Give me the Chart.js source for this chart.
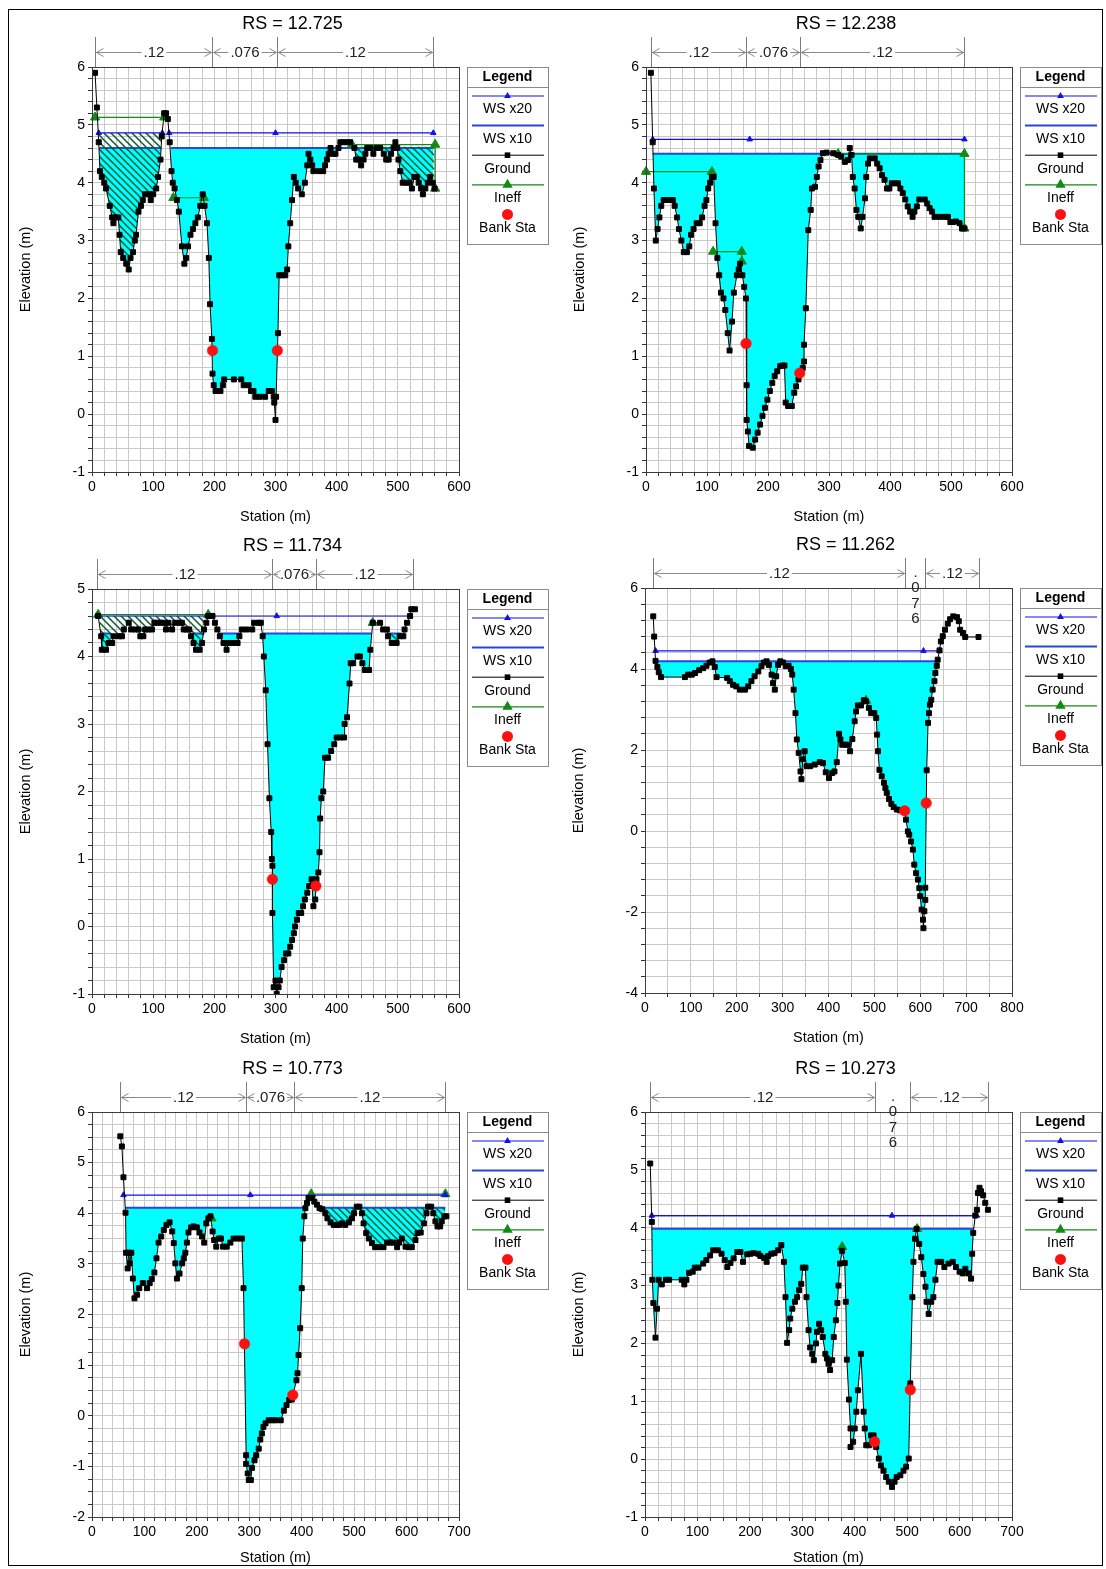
<!DOCTYPE html>
<html>
<head>
<meta charset="utf-8">
<script src="https://cdn.jsdelivr.net/npm/chart.js@4.4.0/dist/chart.umd.min.js"></script>
<style>
  html, body { margin: 0; padding: 0; background: #fff; }
  #page { position: relative; width: 1106px; height: 1569px; overflow: hidden; }
  #frame { position: absolute; left: 8px; top: 9px; width: 1095px; height: 1557px; border: 1px solid #000; box-sizing: border-box; }
  canvas { position: absolute; }
</style>
</head>
<body>
<div id="page"><div id="frame"></div></div>
<script>
const rsLabels = ["12.725", "12.238", "11.734", "11.262", "10.773", "10.273"];

// ground points [station, elevation]
const ground12725 = [[5,5.9],[8,5.3],[11,4.7],[13,4.2],[16,4.1],[20,4.0],[23,3.9],[29,3.6],[33,3.4],[35,3.3],[38,3.4],[43,3.4],[45,3.1],[47,2.8],[51,2.7],[56,2.6],[60,2.5],[63,2.7],[67,2.8],[70,3.0],[72,3.1],[76,3.5],[80,3.6],[83,3.7],[87,3.8],[93,3.8],[96,3.7],[100,3.8],[105,3.9],[108,4.1],[112,4.4],[114,4.8],[118,5.2],[121,5.2],[124,5.1],[127,4.7],[130,4.2],[132,4.0],[135,3.9],[139,3.7],[142,3.5],[147,2.9],[151,2.6],[154,2.7],[157,2.9],[161,3.1],[165,3.2],[169,3.3],[173,3.4],[177,3.6],[181,3.8],[184,3.6],[188,3.3],[191,2.7],[193,1.9],[196,1.3],[197,0.7],[199,0.5],[202,0.4],[210,0.4],[214,0.5],[216,0.6],[232,0.6],[244,0.6],[248,0.5],[256,0.5],[260,0.4],[264,0.4],[267,0.3],[274,0.3],[283,0.3],[289,0.4],[294,0.4],[297,0.3],[298,0.2],[300,-0.1],[301,0.3],[304,1.4],[306,2.4],[311,2.4],[316,2.4],[319,2.5],[321,2.9],[324,3.3],[327,3.7],[330,4.1],[333,4.0],[337,3.9],[343,3.8],[348,4.0],[352,4.3],[354,4.5],[357,4.4],[360,4.3],[362,4.2],[371,4.2],[378,4.2],[381,4.3],[384,4.4],[387,4.5],[390,4.6],[394,4.5],[398,4.5],[403,4.6],[406,4.7],[411,4.7],[417,4.7],[422,4.7],[429,4.6],[432,4.4],[436,4.4],[440,4.3],[444,4.4],[447,4.5],[450,4.6],[455,4.6],[460,4.5],[465,4.6],[471,4.6],[477,4.5],[481,4.4],[485,4.4],[489,4.5],[493,4.6],[496,4.7],[499,4.6],[501,4.4],[504,4.2],[508,4.0],[514,4.0],[519,4.0],[523,3.9],[527,4.1],[531,4.1],[534,4.0],[538,3.9],[541,3.8],[545,3.9],[549,4.0],[553,4.1],[557,4.0],[560,3.9]];
const ground12238 = [[8,5.9],[11,4.7],[13,3.9],[16,3.0],[19,3.2],[22,3.4],[25,3.6],[29,3.7],[37,3.7],[44,3.7],[47,3.6],[51,3.4],[54,3.2],[58,3.0],[62,2.8],[67,2.8],[71,2.9],[74,3.1],[78,3.2],[83,3.3],[88,3.3],[92,3.4],[96,3.6],[99,3.7],[102,3.9],[105,4.0],[108,4.1],[111,4.1],[114,3.3],[117,2.7],[120,2.4],[123,2.1],[127,2.0],[130,1.8],[134,1.4],[137,1.1],[141,1.6],[144,2.1],[149,2.4],[152,2.5],[154,2.6],[158,2.4],[161,2.2],[164,2.0],[165,0.5],[165,-0.1],[167,-0.3],[169,-0.55],[175,-0.58],[179,-0.44],[183,-0.32],[187,-0.18],[191,-0.03],[195,0.11],[199,0.25],[203,0.4],[207,0.54],[211,0.66],[215,0.74],[220,0.83],[224,0.84],[227,0.84],[229,0.2],[233,0.14],[239,0.14],[243,0.37],[246,0.48],[250,0.6],[257,0.8],[259,0.91],[259,1.2],[262,1.83],[266,3.18],[270,3.53],[272,3.9],[277,3.93],[280,4.1],[283,4.28],[286,4.39],[290,4.51],[296,4.52],[307,4.51],[315,4.48],[320,4.45],[326,4.36],[331,4.39],[334,4.6],[337,4.48],[339,4.1],[342,3.9],[345,3.53],[348,3.41],[352,3.21],[355,3.41],[359,3.73],[361,4.1],[364,4.33],[367,4.42],[375,4.42],[379,4.33],[383,4.25],[387,4.13],[391,4.05],[395,3.9],[399,3.9],[403,3.99],[409,3.99],[413,3.99],[417,3.9],[421,3.82],[425,3.71],[429,3.59],[433,3.5],[437,3.41],[440,3.5],[444,3.59],[448,3.71],[457,3.71],[461,3.64],[465,3.56],[469,3.5],[473,3.41],[481,3.41],[489,3.41],[495,3.41],[499,3.32],[503,3.32],[508,3.33],[514,3.3],[518,3.21],[522,3.21]];
const ground11734 = [[10,4.6],[15,4.3],[16,4.1],[23,4.1],[27,4.2],[33,4.2],[35,4.3],[44,4.3],[49,4.3],[52,4.4],[60,4.5],[64,4.4],[71,4.4],[76,4.4],[79,4.3],[84,4.3],[87,4.4],[92,4.4],[98,4.4],[102,4.5],[106,4.5],[112,4.5],[117,4.5],[121,4.4],[125,4.5],[131,4.4],[136,4.5],[143,4.5],[147,4.5],[150,4.4],[155,4.4],[159,4.4],[162,4.3],[166,4.2],[170,4.1],[176,4.1],[180,4.2],[183,4.4],[187,4.5],[190,4.6],[197,4.6],[201,4.5],[205,4.4],[209,4.3],[215,4.2],[220,4.1],[223,4.2],[230,4.2],[238,4.2],[241,4.3],[245,4.4],[253,4.4],[262,4.4],[265,4.5],[272,4.5],[276,4.5],[279,4.3],[281,4.0],[284,3.5],[287,2.7],[290,1.9],[293,1.4],[294,1.0],[295,0.9],[295,0.2],[297,-0.9],[300,-0.8],[302,-1.0],[305,-0.9],[307,-0.8],[310,-0.6],[314,-0.5],[317,-0.4],[321,-0.4],[324,-0.3],[327,-0.2],[330,-0.1],[332,0.0],[335,0.1],[338,0.2],[342,0.2],[345,0.3],[348,0.4],[352,0.5],[355,0.6],[359,0.7],[362,0.3],[365,0.4],[367,0.7],[370,0.8],[372,1.1],[373,1.6],[375,1.9],[378,2.0],[381,2.5],[386,2.5],[391,2.6],[396,2.7],[400,2.8],[406,2.8],[412,2.8],[413,3.0],[417,3.1],[421,3.6],[423,3.9],[427,3.9],[434,4.0],[438,4.0],[442,3.9],[446,3.8],[453,3.8],[455,4.1],[459,4.5],[471,4.5],[476,4.4],[482,4.4],[484,4.3],[490,4.2],[498,4.2],[503,4.3],[509,4.3],[511,4.4],[515,4.5],[520,4.6],[522,4.7],[528,4.7]];
const ground11262 = [[18,5.3],[20,4.8],[23,4.2],[27,4.05],[30,3.92],[35,3.8],[87,3.8],[94,3.86],[102,3.86],[109,3.9],[118,3.97],[127,4.02],[134,4.08],[141,4.16],[147,4.19],[152,4.05],[156,3.8],[179,3.78],[185,3.7],[192,3.61],[199,3.57],[207,3.49],[218,3.49],[225,3.57],[232,3.7],[239,3.82],[247,3.94],[254,4.07],[259,4.16],[265,4.19],[270,4.1],[276,3.86],[279,3.65],[283,3.49],[286,3.82],[290,4.1],[295,4.19],[301,4.16],[307,4.07],[313,4.08],[318,4.0],[321,3.86],[324,3.49],[328,2.91],[331,2.26],[335,1.93],[339,1.47],[341,1.28],[344,1.77],[348,1.97],[352,1.6],[360,1.6],[370,1.64],[381,1.7],[388,1.68],[394,1.45],[401,1.31],[408,1.43],[413,1.47],[418,1.7],[423,2.4],[426,2.26],[430,2.13],[437,2.13],[442,2.13],[447,1.97],[452,2.27],[457,2.71],[460,2.95],[464,3.1],[471,3.1],[477,3.23],[482,3.2],[488,3.04],[493,2.91],[500,2.91],[504,2.79],[506,2.38],[508,1.97],[511,1.51],[516,1.35],[521,1.19],[524,1.06],[527,0.94],[532,0.79],[537,0.67],[542,0.59],[549,0.53],[556,0.51],[566,0.5],[569,0.28],[573,-0.01],[576,-0.09],[580,-0.26],[584,-0.46],[587,-0.83],[591,-1.04],[595,-1.2],[598,-1.41],[600,-1.61],[603,-1.94],[606,-2.19],[607,-2.4],[609,-1.98],[611,-1.7],[611,-1.4],[614,1.5],[617,2.67],[619,2.91],[621,3.12],[624,3.24],[627,3.49],[631,3.7],[633,3.9],[636,4.08],[638,4.23],[642,4.46],[645,4.68],[649,4.81],[654,4.97],[660,5.12],[665,5.23],[672,5.3],[680,5.28],[684,5.18],[687,4.97],[693,4.89],[698,4.79],[727,4.79]];
const ground10773 = [[54,5.52],[57,5.32],[60,4.71],[64,4.01],[65,3.22],[68,2.91],[70,3.22],[72,3.01],[75,3.22],[78,2.71],[81,2.32],[86,2.39],[90,2.52],[97,2.62],[105,2.52],[110,2.62],[114,2.7],[119,2.83],[123,3.11],[127,3.42],[132,3.54],[137,3.67],[142,3.77],[148,3.82],[153,3.64],[156,3.41],[159,3.01],[162,2.71],[167,2.81],[172,3.01],[175,3.11],[178,3.22],[181,3.42],[184,3.62],[189,3.72],[194,3.74],[200,3.72],[205,3.62],[210,3.54],[214,3.42],[218,3.8],[222,3.9],[226,3.94],[230,3.64],[233,3.47],[237,3.34],[242,3.5],[246,3.5],[250,3.34],[257,3.34],[264,3.42],[270,3.5],[278,3.5],[286,3.5],[289,2.52],[294,-0.78],[294,-0.95],[297,-1.14],[299,-1.27],[303,-1.27],[305,-1.03],[310,-0.88],[313,-0.78],[318,-0.65],[321,-0.47],[324,-0.35],[327,-0.22],[331,-0.15],[337,-0.09],[343,-0.09],[350,-0.09],[360,-0.09],[366,0.1],[371,0.21],[376,0.31],[381,0.32],[390,0.7],[392,0.84],[394,1.2],[397,1.73],[400,2.52],[402,3.5],[405,3.94],[407,4.1],[410,4.2],[413,4.3],[420,4.3],[424,4.23],[429,4.17],[434,4.1],[439,4.08],[445,4.0],[449,3.9],[455,3.82],[461,3.77],[467,3.77],[472,3.77],[477,3.8],[483,3.77],[490,3.82],[496,3.9],[500,4.0],[505,4.13],[510,4.13],[515,4.0],[518,3.8],[523,3.61],[528,3.5],[534,3.41],[540,3.33],[548,3.33],[556,3.33],[563,3.42],[569,3.42],[575,3.42],[582,3.33],[586,3.42],[591,3.5],[598,3.34],[604,3.33],[610,3.33],[617,3.47],[621,3.61],[627,3.62],[633,3.8],[638,4.0],[641,4.13],[647,4.13],[651,4.0],[655,3.84],[659,3.74],[664,3.74],[667,3.84],[672,3.94],[676,3.94]];
const ground10273 = [[10,5.11],[13,4.1],[14,3.1],[16,2.7],[20,2.1],[23,2.6],[26,3.1],[32,3.02],[40,3.1],[46,3.1],[70,3.1],[75,3.02],[79,3.1],[84,3.22],[91,3.24],[95,3.31],[102,3.31],[111,3.38],[117,3.44],[124,3.52],[130,3.61],[139,3.61],[146,3.55],[152,3.44],[157,3.32],[163,3.39],[169,3.47],[176,3.58],[182,3.58],[187,3.41],[195,3.54],[201,3.55],[207,3.56],[216,3.55],[220,3.51],[227,3.48],[232,3.41],[235,3.51],[241,3.55],[247,3.56],[254,3.61],[260,3.7],[265,3.41],[268,2.8],[271,2.01],[275,2.23],[277,2.43],[281,2.6],[286,2.72],[290,2.8],[294,2.92],[298,3.03],[301,3.31],[306,3.31],[308,2.8],[312,2.23],[315,1.93],[319,1.82],[322,1.71],[326,2.0],[328,2.2],[332,2.34],[336,2.23],[339,2.11],[344,1.82],[347,1.74],[350,1.65],[353,1.54],[357,1.71],[360,2.11],[364,2.4],[367,2.7],[369,3.0],[372,3.38],[376,3.6],[381,3.39],[383,2.72],[385,1.72],[389,1.03],[392,0.53],[392,0.21],[397,0.3],[400,0.53],[403,0.82],[406,1.19],[412,1.82],[417,0.82],[419,0.53],[422,0.24],[427,0.24],[431,0.41],[436,0.41],[441,0.21],[446,0.01],[450,-0.11],[455,-0.2],[460,-0.31],[465,-0.39],[471,-0.48],[476,-0.39],[480,-0.31],[487,-0.28],[493,-0.2],[498,-0.13],[503,0.01],[506,1.31],[510,2.8],[512,3.41],[515,3.81],[518,3.98],[523,3.72],[527,3.49],[531,3.2],[535,2.98],[537,2.72],[541,2.51],[546,2.72],[550,2.8],[554,3.1],[558,3.41],[565,3.41],[571,3.32],[579,3.38],[587,3.41],[593,3.32],[600,3.24],[606,3.21],[611,3.29],[617,3.21],[622,3.12],[624,3.55],[626,3.91],[630,4.21],[633,4.31],[635,4.6],[638,4.69],[641,4.63],[645,4.56],[649,4.43],[654,4.31]];
const grounds = [ground12725, ground12238, ground11734, ground11262, ground10773, ground10273];

// water surfaces
const ws20Elev = [4.86, 4.75, 4.6, 4.45, 4.36, 4.21];
const ws20Marks = [[11, 115, null, 126, 300, 558], [11, 170, 522], [10, 193, 302, 520], [23, 607, 642], [60, 302, 674], [13, 471, 633]];
const ws10Elev = [4.6, 4.5, 4.34, 4.19, 4.11, 3.98];
const ws10Reach = [
  [[12, 113], [129, 558]],
  [[11, 522]],
  [[13, 30], [163, 184], [207, 244], [278, 457], [483, 506]],
  [[23, 637]],
  [[63, 407], [434, 674]],
  [[13, 627]]
];

// ineffective flow areas: polylines [station, elevation]
const ineffLines = [
  [[[5, 5.13], [118, 5.13]], [[133, 3.74], [183, 3.74]], [[425, 4.66], [561, 4.66], [561, 3.9]]],
  [[[0, 4.19], [108, 4.19]], [[110, 2.81], [157, 2.81], [157, 2.64]], [[315, 4.5], [522, 4.5], [522, 3.21]]],
  [[[10, 4.62], [190, 4.62]], [[459, 4.5]]],
  [[[482, 3.22]]],
  [[[228, 3.9]], [[418, 4.38], [674, 4.38]]],
  [[[376, 3.67]], [[519, 3.98]]]
];
// hatched ineffective water: [from, to, top elevation]
const hatchAreas = [[[11, 115, 4.86], [427, 560, 4.62]], [], [[12, 188, 4.6], [482, 508, 4.34]], [], [[434, 674, 4.11]], []];

const bankPts = [[[197, 1.1], [303, 1.1]], [[164, 1.22], [252, 0.71]], [[295, 0.7], [366, 0.6]], [[566, 0.5], [613, 0.69]], [[291, 1.42], [383, 0.41]], [[438, 0.3], [506, 1.2]]];

// Manning's n break stations and values
const nSta = [[5, 197, 302, 558], [8, 164, 252, 522], [8, 294, 366, 525], [18, 566, 611, 727], [54, 294, 386, 673], [10, 438, 506, 654]];
const nVal = [".12", ".076", ".12"];

// axes
const xMax = [600, 600, 600, 800, 700, 700];
const xStep = [20, 20, 20, 50, 20, 25];
const yMin = [-1, -1, -1, -4, -2, -1];
const yMax = [6, 6, 5, 6, 6, 6];
const yStep = [0.2, 0.2, 0.2, 0.4, 0.25, 0.2];
const yMajor = [1, 1, 1, 2, 1, 1];

// ---- layout ----
const PLOT_BOX = [[92, 67, 459, 472], [646, 67, 1012, 472], [92, 589, 459, 994], [645, 588, 1012, 993], [92, 1112, 459, 1517], [645, 1112, 1012, 1517]];
const CANVAS_X = [9, 557], CANVAS_W = [548, 545];
const CANVAS_Y = [10, 532, 1054], CANVAS_H = [522, 522, 514];
const STATION_DY = [45, 45, 41];

const FONT = '"Liberation Sans", Arial, Helvetica, sans-serif';
Chart.defaults.font.family = FONT;
Chart.defaults.color = "#000";

const C = {
  ws20: "#1212e8",
  ws10: "#2a46dc",
  ineff: "#138a13",
  bank: "#ff1010",
  water: "#00ffff",
  hatch: "#0d5a33",
  grid: "#c9c9c9"
};

function pts(pairs) {
  return pairs.map((p) => ({ x: p[0], y: p[1] }));
}

function isMajor(v, m) {
  return Math.abs(v / m - Math.round(v / m)) < 1e-6;
}

function hatchPattern() {
  const c = document.createElement("canvas");
  c.width = 7;
  c.height = 7;
  const g = c.getContext("2d");
  g.strokeStyle = C.hatch;
  g.lineWidth = 1.5;
  g.beginPath();
  g.moveTo(-1, -1); g.lineTo(8, 8);
  g.moveTo(-1, 6); g.lineTo(1, 8);
  g.moveTo(6, -1); g.lineTo(8, 1);
  g.stroke();
  return g.createPattern(c, "repeat");
}

function marker(ctx, style, x, y, r, color) {
  ctx.fillStyle = color;
  ctx.beginPath();
  if (style === "triangle") {
    ctx.moveTo(x, y - r);
    ctx.lineTo(x + r * 0.866, y + r * 0.5);
    ctx.lineTo(x - r * 0.866, y + r * 0.5);
    ctx.closePath();
  } else if (style === "rect") {
    ctx.rect(x - r, y - r, 2 * r, 2 * r);
  } else {
    ctx.arc(x, y, r, 0, Math.PI * 2);
  }
  ctx.fill();
}

const LEGEND_ITEMS = [
  { label: "WS x20", color: C.ws20, lw: 1.2, mark: "triangle", r: 4 },
  { label: "WS x10", color: C.ws10, lw: 2 },
  { label: "Ground", color: "#000", lw: 1, mark: "rect", r: 2.8 },
  { label: "Ineff", color: C.ineff, lw: 1.2, mark: "triangle", r: 6 },
  { label: "Bank Sta", color: C.bank, mark: "circle", r: 5.5 }
];

function drawLegend(ctx, a) {
  const L = Math.round(a.right) + 8, T = Math.round(a.top), W = 81, H = 177;
  ctx.fillStyle = "#fff";
  ctx.fillRect(L, T, W, H);
  ctx.strokeStyle = "#8a8a8a";
  ctx.lineWidth = 1;
  ctx.strokeRect(L + 0.5, T + 0.5, W, H);
  ctx.beginPath();
  ctx.moveTo(L, T + 20.5);
  ctx.lineTo(L + W, T + 20.5);
  ctx.stroke();
  ctx.textAlign = "center";
  ctx.textBaseline = "middle";
  ctx.fillStyle = "#000";
  ctx.font = "bold 14px " + FONT;
  ctx.fillText("Legend", L + W / 2, T + 10);
  ctx.font = "14px " + FONT;
  LEGEND_ITEMS.forEach((it, k) => {
    const y = T + 29 + 29.6 * k;
    if (it.lw) {
      ctx.strokeStyle = it.color;
      ctx.lineWidth = it.lw;
      ctx.beginPath();
      ctx.moveTo(L + 5, y);
      ctx.lineTo(L + W - 4, y);
      ctx.stroke();
    }
    if (it.mark) marker(ctx, it.mark, L + W / 2, y, it.r, it.color);
    ctx.fillStyle = "#000";
    ctx.fillText(it.label, L + W / 2, y + 13.5);
  });
}

function drawN(ctx, a, xs, sta) {
  const yTop = a.top - 30, yA = Math.round(a.top - 15) + 0.5;
  const px = sta.map((s) => Math.round(xs.getPixelForValue(s)) + 0.5);
  ctx.strokeStyle = "#7c7c7c";
  ctx.lineWidth = 1;
  ctx.beginPath();
  px.forEach((p) => { ctx.moveTo(p, yTop); ctx.lineTo(p, a.top); });
  ctx.stroke();
  ctx.font = "15px " + FONT;
  ctx.textAlign = "center";
  ctx.textBaseline = "middle";
  ctx.fillStyle = "#222";
  for (let k = 0; k < nVal.length; k++) {
    const l = px[k], r = px[k + 1], m = (l + r) / 2, w = ctx.measureText(nVal[k]).width;
    if (r - l > w + 10) {
      ctx.strokeStyle = "#8a8a8a";
      ctx.beginPath();
      ctx.moveTo(l, yA); ctx.lineTo(m - w / 2 - 2, yA);
      ctx.moveTo(m + w / 2 + 2, yA); ctx.lineTo(r, yA);
      ctx.moveTo(l + 8, yA - 4); ctx.lineTo(l + 1, yA); ctx.lineTo(l + 8, yA + 4);
      ctx.moveTo(r - 8, yA - 4); ctx.lineTo(r - 1, yA); ctx.lineTo(r - 8, yA + 4);
      ctx.stroke();
      ctx.fillText(nVal[k], m, yA);
    } else {
      [...nVal[k]].forEach((ch, j) => ctx.fillText(ch, m, yA - 1 + j * 15.5));
    }
  }
}

function extras(i, row) {
  return {
    id: "xsec" + i,
    afterDraw(chart) {
      const ctx = chart.ctx, a = chart.chartArea, xs = chart.scales.x;
      ctx.save();
      ctx.strokeStyle = "#3c3c3c";
      ctx.lineWidth = 1;
      ctx.strokeRect(Math.round(a.left) + 0.5, Math.round(a.top) + 0.5, Math.round(a.right - a.left), Math.round(a.bottom - a.top));
      ctx.fillStyle = "#000";
      ctx.textAlign = "center";
      ctx.textBaseline = "middle";
      ctx.font = "18px " + FONT;
      ctx.fillText("RS = " + rsLabels[i], (a.left + a.right) / 2 + 17, a.top - 43);
      ctx.font = "14.5px " + FONT;
      ctx.fillText("Station (m)", (a.left + a.right) / 2, a.bottom + STATION_DY[row]);
      ctx.save();
      ctx.translate(a.left - 66, (a.top + a.bottom) / 2);
      ctx.rotate(-Math.PI / 2);
      ctx.fillText("Elevation (m)", 0, 0);
      ctx.restore();
      drawN(ctx, a, xs, nSta[i]);
      drawLegend(ctx, a);
      ctx.restore();
    }
  };
}

function buildPanel(i, pattern) {
  const col = i % 2, row = Math.floor(i / 2);
  const box = PLOT_BOX[i];
  const cx = CANVAS_X[col], cw = CANVAS_W[col], cy = CANVAS_Y[row], ch = CANVAS_H[row];
  const cv = document.createElement("canvas");
  cv.width = cw;
  cv.height = ch;
  cv.style.left = cx + "px";
  cv.style.top = cy + "px";
  cv.style.width = cw + "px";
  cv.style.height = ch + "px";
  document.getElementById("page").appendChild(cv);

  const padTop = box[1] - cy, padRight = cx + cw - box[2];
  const yW = box[0] - cx, xH = cy + ch - box[3];

  // WS x20 with break where ground rises above
  const ws20Data = [];
  ws20Marks[i].forEach((s, k, arr) => {
    if (s === null) ws20Data.push({ x: (arr[k - 1] + arr[k + 1]) / 2, y: null });
    else ws20Data.push({ x: s, y: ws20Elev[i] });
  });

  const ws10Data = [];
  ws10Reach[i].forEach((r, k, arr) => {
    if (k) ws10Data.push({ x: (arr[k - 1][1] + r[0]) / 2, y: null });
    ws10Data.push({ x: r[0], y: ws10Elev[i] }, { x: r[1], y: ws10Elev[i] });
  });

  const ineffData = [];
  ineffLines[i].forEach((seg, k) => {
    if (k) ineffData.push({ x: seg[0][0] - 0.5, y: null });
    seg.forEach((p) => ineffData.push({ x: p[0], y: p[1] }));
  });

  const datasets = [
    {
      label: "Bank Sta", data: pts(bankPts[i]), showLine: false,
      pointStyle: "circle", pointRadius: 5.3, pointBorderWidth: 0.5,
      pointBackgroundColor: C.bank, pointBorderColor: C.bank, order: 0, clip: 8
    },
    {
      label: "Ground", data: pts(grounds[i]), borderColor: "#000", borderWidth: 1,
      pointStyle: "rect", pointRadius: 3.5, pointBorderWidth: 1,
      pointBackgroundColor: "#000", pointBorderColor: "#000", fill: false, order: 1
    },
    {
      label: "WS x20", data: ws20Data, borderColor: C.ws20, borderWidth: 1.2,
      pointStyle: "triangle", pointRadius: 3.2, pointBorderWidth: 1,
      pointBackgroundColor: C.ws20, pointBorderColor: C.ws20, fill: false, order: 2, clip: 8
    },
    {
      label: "Ineff", data: ineffData, borderColor: C.ineff, borderWidth: 1.2,
      pointStyle: "triangle", pointRadius: 5.3, pointBorderWidth: 1,
      pointBackgroundColor: C.ineff, pointBorderColor: C.ineff, fill: false, order: 3, clip: 8
    }
  ];
  hatchAreas[i].forEach((h) => {
    datasets.push({
      label: "hatch", data: [{ x: h[0], y: h[2] }, { x: h[1], y: h[2] }],
      borderColor: "rgba(0,0,0,0)", borderWidth: 0, pointRadius: 0,
      fill: { target: 1, above: pattern, below: "rgba(0,0,0,0)" }, order: 4
    });
  });
  datasets.push({
    label: "WS x10", data: ws10Data, borderColor: C.ws10, borderWidth: 2, pointRadius: 0,
    fill: { target: 1, above: C.water, below: "rgba(0,0,0,0)" }, order: 5
  });

  new Chart(cv.getContext("2d"), {
    type: "line",
    data: { datasets },
    options: {
      responsive: false,
      animation: false,
      devicePixelRatio: 1,
      events: [],
      layout: { padding: { left: 0, top: padTop, right: padRight, bottom: 0 } },
      elements: { line: { tension: 0 } },
      plugins: { legend: { display: false }, tooltip: { enabled: false } },
      scales: {
        x: {
          type: "linear", position: "bottom", min: 0, max: xMax[i],
          afterFit: (s) => { s.height = xH; },
          grid: { color: C.grid, lineWidth: 1, tickLength: 4, tickColor: "#333" },
          border: { color: "#333" },
          ticks: {
            stepSize: xStep[i], autoSkip: false, maxRotation: 0, padding: 3,
            maxTicksLimit: 1000, color: "#000", font: { size: 14 },
            callback: (v) => (isMajor(v, 100) ? String(Math.round(v)) : "")
          }
        },
        y: {
          type: "linear", position: "left", min: yMin[i], max: yMax[i],
          afterFit: (s) => { s.width = yW; },
          grid: { color: C.grid, lineWidth: 1, tickLength: 4, tickColor: "#333" },
          border: { color: "#333" },
          ticks: {
            stepSize: yStep[i], autoSkip: false, padding: 3,
            maxTicksLimit: 1000, color: "#000", font: { size: 14 },
            callback: (v) => (isMajor(v, yMajor[i]) ? String(Math.round(v)) : "")
          }
        }
      }
    },
    plugins: [extras(i, row)]
  });
}

const pattern = hatchPattern();
for (let i = 0; i < 6; i++) buildPanel(i, pattern);
</script>
</body>
</html>
